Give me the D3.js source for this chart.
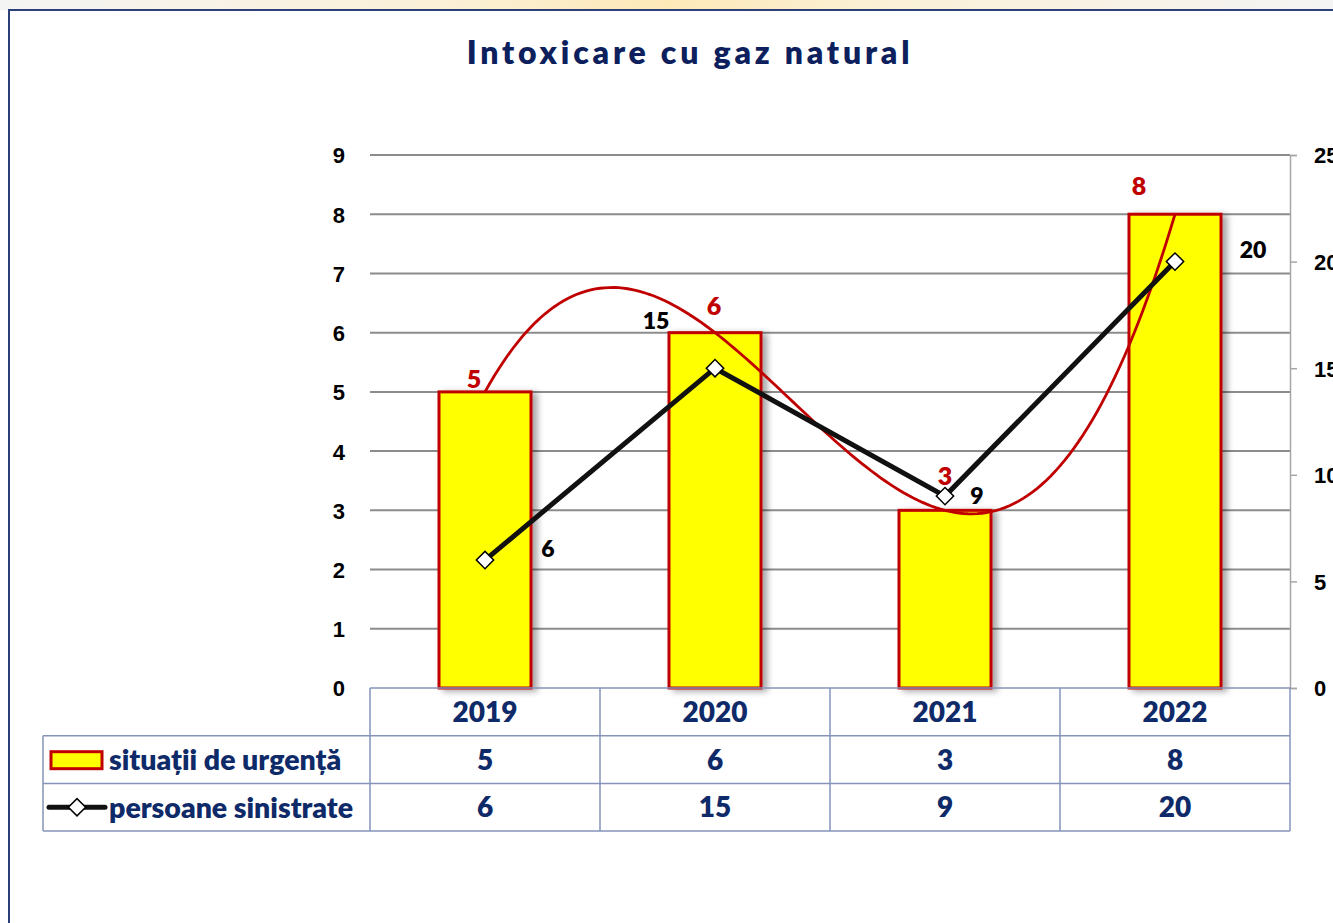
<!DOCTYPE html>
<html>
<head>
<meta charset="utf-8">
<script src="https://cdn.jsdelivr.net/npm/d3@7"></script>
<style>
  body { margin: 0; background: #fff; }
  svg { display: block; font-family: Lato, "Open Sans", sans-serif; }
</style>
</head>
<body>
<div class="chart"></div>
<script>
// chart data
var years = ["2019", "2020", "2021", "2022"];
var situatii = [5, 6, 3, 8];
var persoane = [6, 15, 9, 20];
var leftTicks = [0, 1, 2, 3, 4, 5, 6, 7, 8, 9];
var rightTicks = [0, 5, 10, 15, 20, 25];
var seriesNames = ["situații de urgență", "persoane sinistrate"];
var title = "Intoxicare cu gaz natural";

var W = 1333, H = 923;
var dim = { left: 370, right: 1290, top: 155, bottom: 688, rowH: 47.7, legendLeft: 43 };

var navy = "#0f2a68", red = "#c00000", gridCol = "#8c8c8c", tableCol = "#8593b8";
var heavy = 800;

var svg = d3.select(".chart").append("svg")
    .attr("width", W)
    .attr("height", H);

var defs = svg.append("defs");
var shadow = defs.append("filter").attr("id", "shadow")
    .attr("x", "-20%").attr("y", "-10%").attr("width", "150%").attr("height", "130%");
shadow.append("feDropShadow")
    .attr("dx", 5).attr("dy", 2).attr("stdDeviation", 3)
    .attr("flood-color", "#000").attr("flood-opacity", 0.35);

// faint slide background above the frame
var bgGrad = defs.append("linearGradient").attr("id", "bgGrad");
bgGrad.append("stop").attr("offset", "0%").attr("stop-color", "#f4f4f4");
bgGrad.append("stop").attr("offset", "33%").attr("stop-color", "#fbf1d8");
bgGrad.append("stop").attr("offset", "50%").attr("stop-color", "#fde9b8");
bgGrad.append("stop").attr("offset", "67%").attr("stop-color", "#fbf1d8");
bgGrad.append("stop").attr("offset", "100%").attr("stop-color", "#f4f4f4");
svg.append("rect").attr("x", 0).attr("y", 0).attr("width", W).attr("height", 10)
    .attr("fill", "url(#bgGrad)");

// frame
svg.append("path")
    .attr("d", "M9," + H + "V10H" + W)
    .attr("fill", "none")
    .attr("stroke", "#2d3f78")
    .attr("stroke-width", 2);

svg.append("text")
    .attr("x", 690)
    .attr("y", 64)
    .attr("text-anchor", "middle")
    .attr("fill", "#0d1f5c")
    .style("font-size", "32px")
    .style("font-weight", heavy)
    .style("letter-spacing", "3.8px")
    .text(title);

var x = d3.scaleBand().domain(years).range([dim.left, dim.right]).paddingInner(0).paddingOuter(0);
var y = d3.scaleLinear().domain([0, 9]).range([dim.bottom, dim.top]);
var y2 = d3.scaleLinear().domain([0, 25]).range([dim.bottom, dim.top]);
var barW = x.bandwidth() * 0.4;
var cx = function(d) { return x(d) + x.bandwidth() / 2; };

// gridlines
svg.append("g")
    .selectAll("line").data(leftTicks.slice(1)).enter().append("line")
    .attr("x1", dim.left).attr("x2", dim.right)
    .attr("y1", function(d) { return y(d); })
    .attr("y2", function(d) { return y(d); })
    .attr("stroke", gridCol)
    .attr("stroke-width", 2);

// left axis labels
var leftAxis = d3.axisLeft(y).tickValues(leftTicks).tickSize(0).tickPadding(25);
var gl = svg.append("g").attr("transform", "translate(" + dim.left + ",0)").call(leftAxis);
gl.select(".domain").remove();
gl.selectAll("text").style("font-size", "22px").style("font-weight", heavy)
    .attr("fill", "#000").attr("dy", "0.36em");

// right axis
var rightAxis = d3.axisRight(y2).tickValues(rightTicks).tickSize(7).tickPadding(17);
var gr = svg.append("g").attr("transform", "translate(" + dim.right + ",0)").call(rightAxis);
gr.select(".domain").attr("stroke", "#a6a6a6").attr("stroke-width", 1.5);
gr.selectAll(".tick line").attr("stroke", "#a6a6a6").attr("stroke-width", 1.5);
gr.selectAll("text").style("font-size", "22px").style("font-weight", heavy)
    .attr("fill", "#000").attr("dy", "0.36em");

// bars
svg.append("g").selectAll("rect").data(years).enter().append("rect")
    .attr("x", function(d) { return cx(d) - barW / 2; })
    .attr("y", function(d, i) { return y(situatii[i]); })
    .attr("width", barW)
    .attr("height", function(d, i) { return dim.bottom - y(situatii[i]); })
    .attr("fill", "#ffff00")
    .attr("stroke", red)
    .attr("stroke-width", 3)
    .attr("filter", "url(#shadow)");

// polynomial (order 3) trendline of the bar series, Newton form from the values
function trend(t) {
    var n = situatii.length, coef = situatii.slice();
    for (var j = 1; j < n; j++)
        for (var k = n - 1; k >= j; k--)
            coef[k] = (coef[k] - coef[k - 1]) / j;
    var r = coef[n - 1];
    for (var k = n - 2; k >= 0; k--) r = r * (t - (k + 1)) + coef[k];
    return r;
}
var step = x.bandwidth();
var trendPts = d3.range(1, 4.001, 0.02).map(function(t) {
    return [cx(years[0]) + (t - 1) * step, y(trend(t))];
});
svg.append("path")
    .attr("d", d3.line()(trendPts))
    .attr("fill", "none")
    .attr("stroke", red)
    .attr("stroke-width", 2.8);

// persoane line
var linePts = years.map(function(d, i) { return [cx(d), y2(persoane[i])]; });
svg.append("path")
    .attr("d", d3.line()(linePts))
    .attr("fill", "none")
    .attr("stroke", "#111")
    .attr("stroke-width", 5);

var diamond = d3.symbol().type(d3.symbolSquare).size(150);
svg.append("g").selectAll("path").data(linePts).enter().append("path")
    .attr("d", diamond)
    .attr("transform", function(d) { return "translate(" + d[0] + "," + d[1] + ") rotate(45)"; })
    .attr("fill", "#fff")
    .attr("stroke", "#000")
    .attr("stroke-width", 1.5);

// data labels (manual nudges as in the original)
var barNudge = [[-11, -4], [-1, -18], [0, -25], [-36, -19]];
svg.append("g").selectAll("text").data(years).enter().append("text")
    .attr("x", function(d, i) { return cx(d) + barNudge[i][0]; })
    .attr("y", function(d, i) { return y(situatii[i]) + barNudge[i][1]; })
    .attr("text-anchor", "middle")
    .attr("fill", red)
    .style("font-size", "25px")
    .style("font-weight", heavy)
    .text(function(d, i) { return situatii[i]; });

var lineNudge = [[63, -11], [-59, -47], [32, 0], [78, -12]];
svg.append("g").selectAll("text").data(years).enter().append("text")
    .attr("x", function(d, i) { return cx(d) + lineNudge[i][0]; })
    .attr("y", function(d, i) { return y2(persoane[i]) + lineNudge[i][1]; })
    .attr("dy", "0.36em")
    .attr("text-anchor", "middle")
    .attr("fill", "#000")
    .style("font-size", "23px")
    .style("font-weight", heavy)
    .text(function(d, i) { return persoane[i]; });

// data table
var tbl = svg.append("g").attr("stroke", tableCol).attr("stroke-width", 1.5).attr("fill", "none");
var r0 = dim.bottom, r1 = r0 + dim.rowH, r2 = r1 + dim.rowH, r3 = r2 + dim.rowH;
[r0, r1, r2, r3].forEach(function(ry, i) {
    tbl.append("line")
        .attr("x1", i === 0 ? dim.left : dim.legendLeft).attr("x2", dim.right)
        .attr("y1", ry).attr("y2", ry);
});
tbl.append("line").attr("x1", dim.legendLeft).attr("x2", dim.legendLeft).attr("y1", r1).attr("y2", r3);
years.concat(["end"]).forEach(function(d, i) {
    var xx = i < years.length ? x(d) : dim.right;
    tbl.append("line").attr("x1", xx).attr("x2", xx).attr("y1", r0).attr("y2", r3);
});

var cellText = function(rowY, vals) {
    svg.append("g").selectAll("text").data(vals).enter().append("text")
        .attr("x", function(d, i) { return cx(years[i]); })
        .attr("y", rowY + dim.rowH / 2)
        .attr("dy", "0.36em")
        .attr("text-anchor", "middle")
        .attr("fill", navy)
        .style("font-size", "28px")
        .style("font-weight", heavy)
        .text(function(d) { return d; });
};
cellText(r0, years);
cellText(r1, situatii);
cellText(r2, persoane);

// legend keys
svg.append("rect")
    .attr("x", 51).attr("y", r1 + 16).attr("width", 51).attr("height", 17)
    .attr("fill", "#ffff00").attr("stroke", red).attr("stroke-width", 3);
svg.append("line")
    .attr("x1", 49).attr("x2", 105).attr("y1", r2 + dim.rowH / 2).attr("y2", r2 + dim.rowH / 2)
    .attr("stroke", "#111").attr("stroke-width", 5).attr("stroke-linecap", "round");
svg.append("path")
    .attr("d", diamond)
    .attr("transform", "translate(77," + (r2 + dim.rowH / 2) + ") rotate(45)")
    .attr("fill", "#fff").attr("stroke", "#000").attr("stroke-width", 1.5);

svg.append("g").selectAll("text").data(seriesNames).enter().append("text")
    .attr("x", 109)
    .attr("y", function(d, i) { return r1 + dim.rowH * i + dim.rowH / 2; })
    .attr("dy", "0.36em")
    .attr("fill", navy)
    .style("font-size", "28.5px")
    .style("font-weight", heavy)
    .text(function(d) { return d; });
</script>
</body>
</html>
